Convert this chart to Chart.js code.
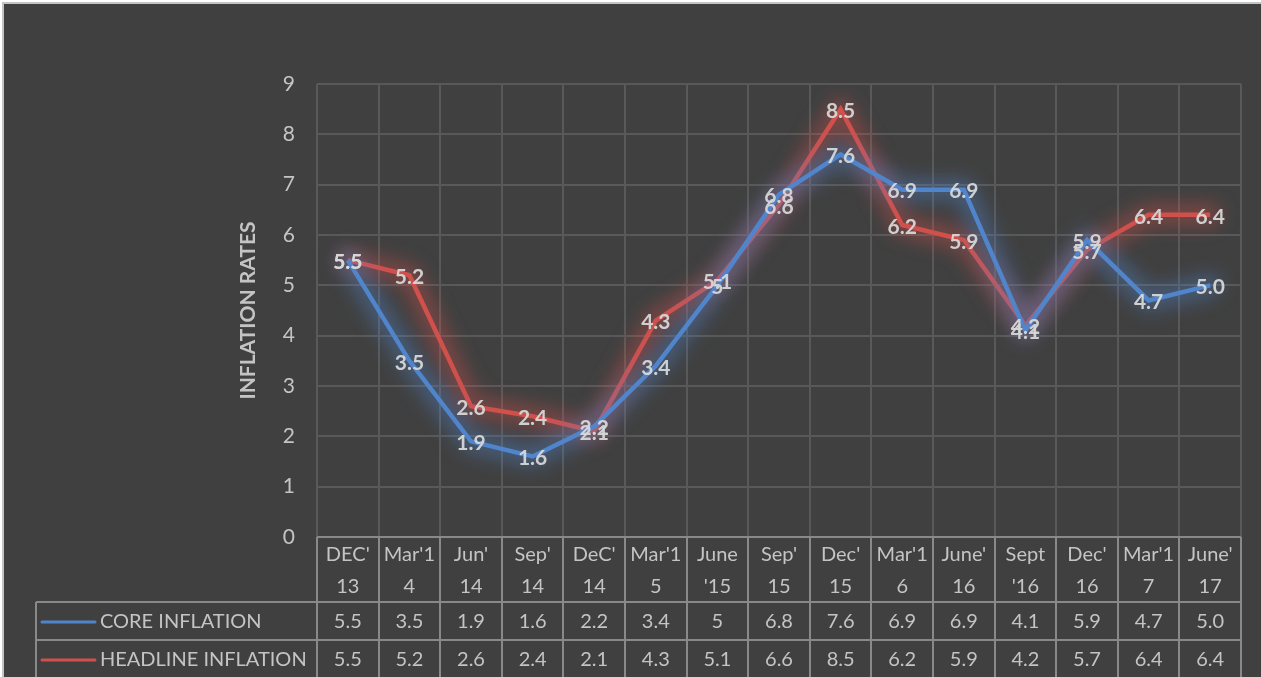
<!DOCTYPE html>
<html>
<head>
<meta charset="utf-8">
<script src="https://cdn.jsdelivr.net/npm/chart.js@4"></script>
<style>
  html, body { margin: 0; padding: 0; background: #fff; overflow: hidden; }
  #frame {
    position: absolute; left: 2px; top: 2px; width: 1259px; height: 675px;
    background: #404040; border-left: 2px solid #c4c4c4; border-top: 2px solid #c4c4c4;
  }
  #c { position: absolute; left: 0; top: 0; }
</style>
</head>
<body>
<div id="frame"></div>
<canvas id="c" width="1261" height="677"></canvas>
<script>
// quarters, as the table shows them (two lines each)
const quarters = [
  ["DEC'", "13"], ["Mar'1", "4"], ["Jun'", "14"], ["Sep'", "14"], ["DeC'", "14"],
  ["Mar'1", "5"], ["June", "'15"], ["Sep'", "15"], ["Dec'", "15"], ["Mar'1", "6"],
  ["June'", "16"], ["Sept", "'16"], ["Dec'", "16"], ["Mar'1", "7"], ["June'", "17"]
];
// values kept as written in the table
const coreInflation = ["5.5", "3.5", "1.9", "1.6", "2.2", "3.4", "5", "6.8", "7.6", "6.9", "6.9", "4.1", "5.9", "4.7", "5.0"];
const headlineInflation = ["5.5", "5.2", "2.6", "2.4", "2.1", "4.3", "5.1", "6.6", "8.5", "6.2", "5.9", "4.2", "5.7", "6.4", "6.4"];
const seriesNames = ["CORE INFLATION", "HEADLINE INFLATION"];
const yTicks = [0, 1, 2, 3, 4, 5, 6, 7, 8, 9];

const FONT = "Lato, 'Open Sans', sans-serif";
const TXT = "#c4c4c4";
const GRID = "#595959";
const TABLE_LINE = "#898989";
const BLUE = "#5085cc";
const RED = "#d0504c";

// soft halo under each line, like the Excel glow effect
const glow = {
  id: "glow",
  beforeDatasetDraw(chart, args) {
    const ctx = chart.ctx;
    const pts = args.meta.data;
    ctx.save();
    ctx.filter = "blur(9px)";
    ctx.strokeStyle = args.meta.dataset.options.borderColor === BLUE
      ? "rgba(80,133,204,0.4)" : "rgba(208,80,76,0.4)";
    ctx.lineWidth = 22;
    ctx.lineJoin = "round";
    ctx.lineCap = "round";
    ctx.beginPath();
    pts.forEach((p, i) => (i ? ctx.lineTo(p.x, p.y) : ctx.moveTo(p.x, p.y)));
    ctx.stroke();
    ctx.restore();
  }
};

const valueLabels = {
  id: "valueLabels",
  afterDatasetsDraw(chart) {
    const ctx = chart.ctx;
    ctx.save();
    ctx.font = "bold 21px " + FONT;
    ctx.fillStyle = "rgba(215,215,215,0.95)";
    ctx.textAlign = "center";
    ctx.textBaseline = "middle";
    chart.data.datasets.forEach((ds, i) => {
      const meta = chart.getDatasetMeta(i);
      meta.data.forEach((pt, j) => {
        ctx.fillText(ds.texts[j], pt.x, pt.y + 2);
      });
    });
    ctx.restore();
  }
};

const dataTable = {
  id: "dataTable",
  afterDraw(chart) {
    const ctx = chart.ctx;
    const a = chart.chartArea;
    const n = quarters.length;
    const step = (a.right - a.left) / n;
    const top = a.bottom;
    const r1 = top + 65, r2 = r1 + 38, r3 = r2 + 38;
    const legLeft = 36;

    ctx.save();
    ctx.strokeStyle = TABLE_LINE;
    ctx.lineWidth = 2;
    ctx.beginPath();
    ctx.moveTo(a.left, top); ctx.lineTo(a.right, top);
    ctx.moveTo(legLeft, r1); ctx.lineTo(a.right, r1);
    ctx.moveTo(legLeft, r2); ctx.lineTo(a.right, r2);
    ctx.moveTo(legLeft, r1); ctx.lineTo(legLeft, r3 + 5);
    for (let i = 0; i <= n; i++) {
      const x = Math.round(a.left + i * step);
      ctx.moveTo(x, top); ctx.lineTo(x, r3 + 5);
    }
    ctx.stroke();

    ctx.fillStyle = TXT;
    ctx.font = "20px " + FONT;
    ctx.textAlign = "center";
    ctx.textBaseline = "middle";
    quarters.forEach((q, i) => {
      const cx = a.left + (i + 0.5) * step;
      ctx.fillText(q[0], cx, top + 18);
      ctx.fillText(q[1], cx, top + 50);
      ctx.fillText(coreInflation[i], cx, r1 + 20);
      ctx.fillText(headlineInflation[i], cx, r2 + 20);
    });

    // legend keys
    [[BLUE, r1 + 20], [RED, r2 + 20]].forEach(([col, y], k) => {
      ctx.strokeStyle = col;
      ctx.lineWidth = 3;
      ctx.lineCap = "round";
      ctx.beginPath();
      ctx.moveTo(42, y); ctx.lineTo(95, y);
      ctx.stroke();
      ctx.textAlign = "left";
      ctx.fillText(seriesNames[k], 100, y);
    });
    ctx.restore();
  }
};

new Chart(document.getElementById("c"), {
  type: "line",
  data: {
    labels: quarters,
    datasets: [
      {
        label: seriesNames[0],
        data: coreInflation.map(Number),
        texts: coreInflation,
        borderColor: BLUE,
        borderWidth: 4.5,
        pointRadius: 0,
        tension: 0
      },
      {
        label: seriesNames[1],
        data: headlineInflation.map(Number),
        texts: headlineInflation,
        borderColor: RED,
        borderWidth: 4.5,
        pointRadius: 0,
        tension: 0
      }
    ]
  },
  options: {
    responsive: false,
    animation: false,
    devicePixelRatio: 1,
    layout: { padding: { left: 232, right: 20, top: 84, bottom: 140 } },
    plugins: {
      legend: { display: false },
      tooltip: { enabled: false }
    },
    scales: {
      x: {
        offset: true,
        grid: { color: GRID, lineWidth: 2, offset: true, drawTicks: false },
        border: { display: false },
        ticks: { display: false },
        afterFit: (s) => { s.height = 0; }
      },
      y: {
        min: 0,
        max: 9,
        afterBuildTicks: (s) => { s.ticks = yTicks.map((v) => ({ value: v })); },
        grid: { color: GRID, lineWidth: 2, drawTicks: false },
        border: { display: false },
        ticks: { color: TXT, font: { family: FONT, size: 21 }, padding: 22 },
        title: {
          display: true,
          text: "INFLATION RATES",
          color: TXT,
          font: { family: FONT, size: 21, weight: "bold" },
          padding: { top: 4, bottom: 4 }
        },
        afterFit: (s) => { s.width = 85; }
      }
    }
  },
  plugins: [glow, valueLabels, dataTable]
});
</script>
</body>
</html>
